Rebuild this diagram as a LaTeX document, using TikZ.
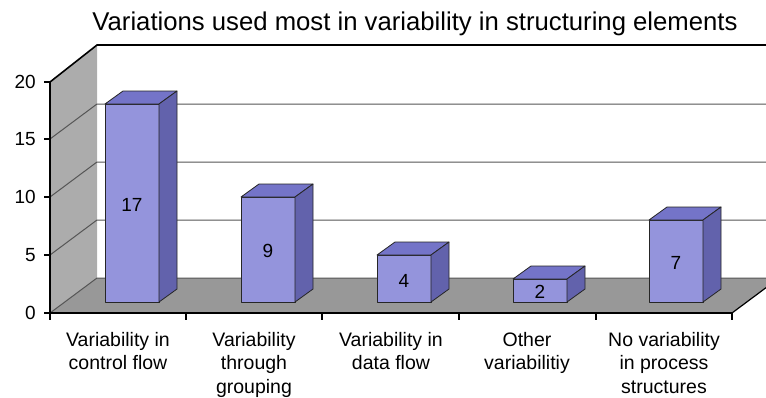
\documentclass[tikz,border=0pt]{standalone}
\usepackage{fontspec}
\setmainfont{Liberation Sans}
\usepackage{xcolor}
\usetikzlibrary{positioning}

\definecolor{barface}{RGB}{148,148,220}
\definecolor{bartop}{RGB}{116,116,200}
\definecolor{barside}{RGB}{98,98,172}
\definecolor{floorgray}{RGB}{152,152,152}
\definecolor{wallgray}{RGB}{172,172,172}
\definecolor{gridgray}{RGB}{85,85,85}

\begin{document}
\begin{tikzpicture}[x=1pt, y=-1pt,
		face/.style={draw=black!85, line width=0.8pt, line join=round, fill=barface},
		topface/.style={draw=black!85, line width=0.8pt, line join=round, fill=bartop},
		sideface/.style={draw=black!85, line width=0.8pt, line join=round, fill=barside},
		gridline/.style={draw=gridgray, line width=1pt},
		axis/.style={draw=black, line width=1.6pt},
		ticklabel/.style={anchor=east, inner sep=0pt, font=\fontsize{19}{22}\selectfont},
		catlabel/.style={anchor=north, align=center, inner sep=0pt, font=\fontsize{19.5}{23.5}\selectfont},
		value/.style={inner sep=0pt, font=\fontsize{19}{22}\selectfont}
		]
		\useasboundingbox (0,0) rectangle (766,397);
		\clip (0,0) rectangle (766,397);
		
		% Le titre
		\node[anchor=base, inner sep=0pt, font=\fontsize{25.7}{30}\selectfont] (titre) at (415,30) {Variations used most in variability in structuring elements};
		
		% Les murs et le sol
		\fill[wallgray] (50,82) -- (97,45) -- (97,278) -- (50,313) -- cycle;
		\fill[floorgray] (50,313) -- (97,278) -- (779,278) -- (732,313) -- cycle;
		
		% La grille
		\draw[gridline] (50,313) -- (97,278) -- (766,278);
		\draw[gridline] (50,255) -- (97,220) -- (766,220);
		\draw[gridline] (50,197) -- (97,162) -- (766,162);
		\draw[gridline] (50,139) -- (97,104) -- (766,104);
		\draw[black, line width=1.6pt] (50,82) -- (97,45) -- (766,45);
		\draw[black, line width=1.2pt] (732,313) -- (779,278);
		
		% Les axes
		\draw[axis] (50,82) -- (50,313) -- (732,313);
		\foreach \y in {82,139,197,255,313}
			\draw[black, line width=1.2pt] (44,\y) -- (50,\y);
		\foreach \x in {50,186,322,459,596,732}
			\draw[black, line width=1.6pt] (\x,313) -- (\x,320);
		\node[ticklabel] (t20) at (36,82) {20};
		\node[ticklabel] (t15) at (36,139) {15};
		\node[ticklabel] (t10) at (36,197) {10};
		\node[ticklabel] (t5) at (36,255) {5};
		\node[ticklabel] (t0) at (36,313) {0};
		
		% Les barres
		\draw[face] (105,302) rectangle ++(54,-198);
		\draw[topface] (105,104) -- ++(18,-13) -- ++(54,0) -- ++(-18,13) -- cycle;
		\draw[sideface] (159,302) -- ++(0,-198) -- ++(18,-13) -- ++(0,198) -- cycle;
		\node[value] (v1) at (132,205) {17};
		
		\draw[face] (241,302) rectangle ++(54,-105);
		\draw[topface] (241,197) -- ++(18,-13) -- ++(54,0) -- ++(-18,13) -- cycle;
		\draw[sideface] (295,302) -- ++(0,-105) -- ++(18,-13) -- ++(0,105) -- cycle;
		\node[value] (v2) at (268,251) {9};
		
		\draw[face] (377,302) rectangle ++(54,-47);
		\draw[topface] (377,255) -- ++(18,-13) -- ++(54,0) -- ++(-18,13) -- cycle;
		\draw[sideface] (431,302) -- ++(0,-47) -- ++(18,-13) -- ++(0,47) -- cycle;
		\node[value] (v3) at (404,281) {4};
		
		\draw[face] (513,302) rectangle ++(54,-23);
		\draw[topface] (513,279) -- ++(18,-13) -- ++(54,0) -- ++(-18,13) -- cycle;
		\draw[sideface] (567,302) -- ++(0,-23) -- ++(18,-13) -- ++(0,23) -- cycle;
		\node[value] (v4) at (540,292) {2};
		
		\draw[face] (649,302) rectangle ++(54,-82);
		\draw[topface] (649,220) -- ++(18,-13) -- ++(54,0) -- ++(-18,13) -- cycle;
		\draw[sideface] (703,302) -- ++(0,-82) -- ++(18,-13) -- ++(0,82) -- cycle;
		\node[value] (v5) at (676,263) {7};
		
		% Les categories
		\node[catlabel] (c1) at (118,332) {Variability in\\control flow};
		\node[catlabel] (c2) at (254,332) {Variability\\through\\grouping};
		\node[catlabel] (c3) at (391,332) {Variability in\\data flow};
		\node[catlabel] (c4) at (527,332) {Other\\variabilitiy};
		\node[catlabel] (c5) at (664,332) {No variability\\in process\\structures};
	\end{tikzpicture}
\end{document}
